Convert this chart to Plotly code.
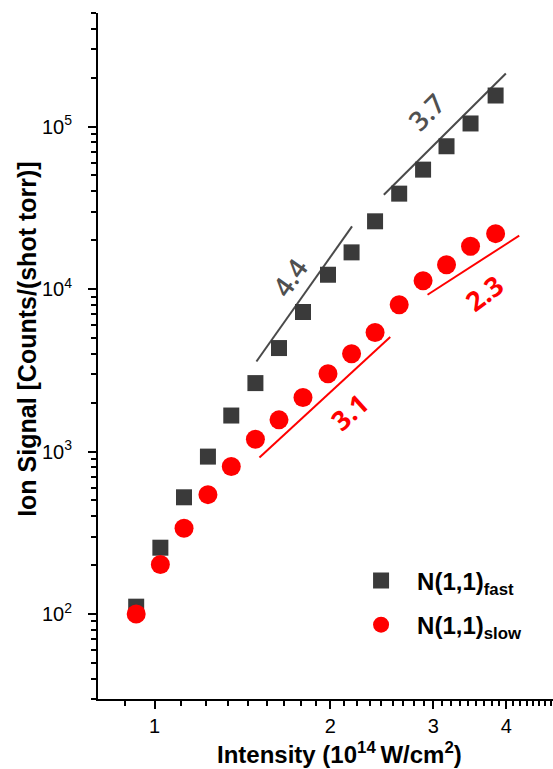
import numpy as np
import plotly.graph_objects as go

# ---- data ----
intensity = [0.930, 1.023, 1.123, 1.234, 1.353, 1.488, 1.633, 1.795,
             1.981, 2.174, 2.385, 2.623, 2.882, 3.161, 3.475, 3.836]
fast = [111, 256, 523, 931, 1666, 2638, 4335, 7225,
        12250, 16820, 26120, 38660, 54330, 75660, 104500, 155300]
slow = [100, 202, 337, 543, 808, 1191, 1567, 2150,
        3008, 3996, 5407, 8010, 11250, 14120, 18320, 21930]

# fit-line endpoints (x, y) and their slope labels
fit_44_x = [1.494, 2.178]
fit_44_y = [3583, 24320]
fit_37_x = [2.469, 3.994]
fit_37_y = [38100, 212200]
fit_31_x = [1.512, 2.532]
fit_31_y = [918, 5066]
fit_23_x = [2.933, 4.210]
fit_23_y = [9230, 21310]

labels = ["4.4", "3.7", "3.1", "2.3"]
label_x = [1.703, 2.921, 2.157, 3.678]
label_y = [11700, 124000, 1762, 9460]
label_angle = [-55, -45, -42, -37]

x_ticks = [1, 2, 3, 4]
y_ticks = [100, 1000, 10000, 100000]
y_ticktext = ["10<sup>2</sup>", "10<sup>3</sup>", "10<sup>4</sup>", "10<sup>5</sup>"]

GRAY = "#3a3a3a"
LINEGRAY = "#4a4a4a"
RED = "#ff0000"
FONT = "Arial, Liberation Sans, sans-serif"

# minor tick positions (Origin-like: 8 linear subdivisions between majors)
x_minor = []
for a in [0, 1, 2, 3, 4]:
    for k in range(1, 9):
        v = a + k / 9 if a > 0 else 1 - k / 9
        x_minor.append(v)
y_minor = [m * 10 ** d for d in range(1, 6) for m in range(2, 10)]

fig = go.Figure()

for fx, fy, col in [(fit_44_x, fit_44_y, LINEGRAY), (fit_37_x, fit_37_y, LINEGRAY),
                    (fit_31_x, fit_31_y, RED), (fit_23_x, fit_23_y, RED)]:
    fig.add_trace(go.Scatter(x=fx, y=fy, mode="lines", line=dict(color=col, width=2),
                             showlegend=False, hoverinfo="skip"))

fig.add_trace(go.Scatter(x=intensity, y=fast, mode="markers", name="N(1,1)<sub>fast</sub>",
                         legendgroup="a",
                         marker=dict(symbol="square", size=16, color=GRAY)))
fig.add_trace(go.Scatter(x=intensity, y=slow, mode="markers", name="N(1,1)<sub>slow</sub>",
                         legendgroup="b",
                         marker=dict(symbol="circle", size=19, color=RED)))

for t, lx, ly, ang in zip(labels, label_x, label_y, label_angle):
    red = t in ("3.1", "2.3")
    fig.add_annotation(x=np.log10(lx), y=np.log10(ly), xref="x", yref="y", text=t,
                       showarrow=False, textangle=ang, xanchor="center", yanchor="middle",
                       font=dict(family="Open Sans, sans-serif", size=27,
                                 color=RED if red else "#505050",
                                 weight="bold" if red else 600))

fig.add_annotation(x=-0.156, y=0.525, xref="paper", yref="paper",
                   xanchor="center", yanchor="middle",
                   text="Ion Signal [Counts/(shot torr)]", textangle=-90, showarrow=False,
                   font=dict(family=FONT, size=25, color="black", weight="bold"))
fig.add_annotation(x=0.53, y=-0.079, xref="paper", yref="paper",
                   xanchor="center", yanchor="middle",
                   text="Intensity (10<sup>14 </sup>W/cm<sup>2</sup>)", showarrow=False,
                   font=dict(family=FONT, size=24, color="black", weight="bold"))

fig.update_xaxes(type="log", range=[np.log10(0.8), np.log10(4.81)], automargin=False,
                 showline=True, linecolor="black", linewidth=2, mirror=False,
                 showgrid=False, zeroline=False,
                 tickmode="array", tickvals=x_ticks, ticktext=[str(v) for v in x_ticks],
                 ticks="outside", ticklen=8, tickwidth=2, tickcolor="black",
                 tickfont=dict(family=FONT, size=20, color="black"),
                 minor=dict(tickmode="array", tickvals=x_minor, ticks="outside",
                            ticklen=5, tickwidth=1.5, tickcolor="black", showgrid=False))
fig.update_yaxes(type="log", range=[np.log10(30), np.log10(5e5)], automargin=False,
                 showline=True, linecolor="black", linewidth=2, mirror=False,
                 showgrid=False, zeroline=False,
                 tickmode="array", tickvals=y_ticks, ticktext=y_ticktext,
                 ticks="outside", ticklen=8, tickwidth=2, tickcolor="black",
                 ticklabelstandoff=12,
                 tickfont=dict(family=FONT, size=20, color="black"),
                 minor=dict(tickmode="array", tickvals=y_minor, ticks="outside",
                            ticklen=5, tickwidth=1.5, tickcolor="black", showgrid=False))

fig.update_layout(
    width=553, height=769,
    margin=dict(l=98, r=0, t=13, b=70),
    plot_bgcolor="white", paper_bgcolor="white",
    legend=dict(x=0.543, y=0.205, xanchor="left", yanchor="top",
                bgcolor="rgba(0,0,0,0)", itemwidth=62, tracegroupgap=10,
                font=dict(family=FONT, size=24, color="black", weight="bold")),
    showlegend=True,
)

fig.write_html("out.html", config={"displayModeBar": False},
               post_script="document.body.style.margin='0px';document.body.style.overflow='hidden';")
